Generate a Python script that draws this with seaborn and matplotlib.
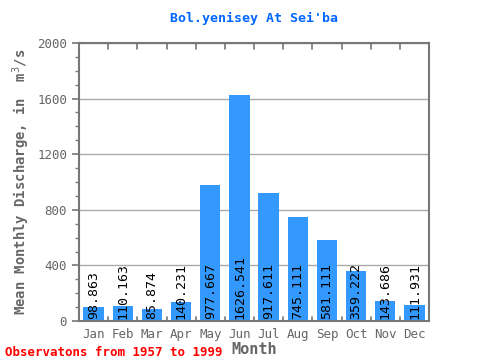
import pandas as pd
import seaborn as sns
import matplotlib.pyplot as plt
from matplotlib.ticker import MultipleLocator

sns.set_style('white')
plt.rcParams['font.family'] = ['DejaVu Sans Mono']

months = ['Jan', 'Feb', 'Mar', 'Apr', 'May', 'Jun',
          'Jul', 'Aug', 'Sep', 'Oct', 'Nov', 'Dec']
discharge = [98.863, 110.163, 85.874, 140.231, 977.667, 1626.541,
             917.611, 745.111, 581.111, 359.222, 143.686, 111.931]

df = pd.DataFrame({'month': months, 'discharge': discharge})

fig = plt.figure(figsize=(4.8, 3.6), dpi=100)
ax = fig.add_axes([0.1646, 0.1083, 0.7292, 0.7723])
sns.barplot(data=df, x='month', y='discharge', color='#3399ff',
            saturation=1, width=0.7, linewidth=0, edgecolor='none',
            ax=ax, zorder=2)

ax.set_ylim(0, 2000)
ax.set_xlim(-0.5, 11.5)
ax.yaxis.set_major_locator(MultipleLocator(400))
ax.yaxis.set_minor_locator(MultipleLocator(100))
ax.grid(axis='y', color='#aaaaaa', linewidth=1, zorder=1)
ax.set_axisbelow(True)

for i, v in enumerate(discharge):
    ax.text(i, 12, str(v), rotation=90, ha='center', va='bottom',
            fontsize=9.5, color='black', zorder=3)

for s in ax.spines.values():
    s.set_color('#777777')
    s.set_linewidth(1.5)

ax.tick_params(axis='y', which='major', length=5, width=1.2,
               color='#777777', labelcolor='#666666', labelsize=9, left=True)
ax.tick_params(axis='y', which='minor', length=3, width=1,
               color='#777777', left=True)
ax.tick_params(axis='x', length=0, labelcolor='#666666', labelsize=9, pad=5)

# boundary ticks on top and bottom, pointing inward
for b in [i + 0.5 for i in range(-1, 12)]:
    ax.plot([b, b], [2000, 1960], color='#777777', lw=1.2, clip_on=False, zorder=4)
    ax.plot([b, b], [0, 30], color='#777777', lw=1.2, clip_on=False, zorder=4)

ax.set_xlabel('Month', fontsize=11, color='#666666', fontweight='bold',
              labelpad=1)
ax.set_ylabel('Mean Monthly Discharge, in  m$^{3}$/s', fontsize=10,
              color='#666666', fontweight='bold')
ax.set_title("Bol.yenisey At Sei'ba", fontsize=9.5, color='#0066ff',
             fontweight='bold', pad=15)

fig.text(0.01, 0.012, 'Observatons from 1957 to 1999', color='red',
         fontsize=9, fontweight='bold')

plt.savefig('out.png', dpi=100)
plt.close()
